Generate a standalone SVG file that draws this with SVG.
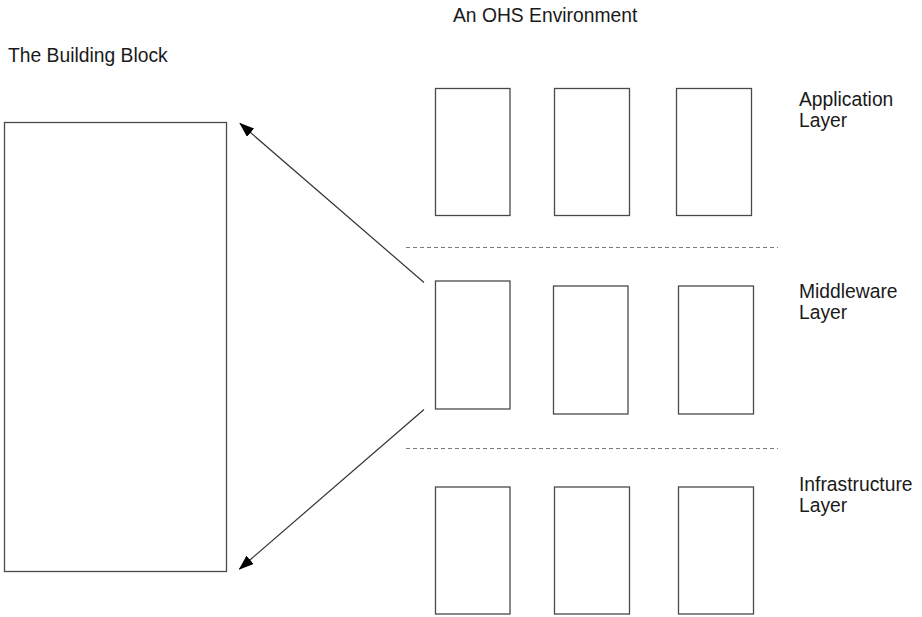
<svg xmlns="http://www.w3.org/2000/svg" width="922" height="617" viewBox="0 0 922 617">
  <style>
    .label { font-family: "Liberation Sans", Arial, sans-serif; font-size: 19.3px; fill: #1a1a1a; }
    .box { fill: #ffffff; stroke: #4a4a4a; stroke-width: 1.3; }
    .divider { stroke: #7a7a7a; stroke-width: 1.2; stroke-dasharray: 4 3; fill: none; }
    .conn { stroke: #333333; stroke-width: 1.2; fill: none; marker-end: url(#arrow); }
  </style>
  <defs>
    <marker id="arrow" viewBox="0 0 15 11" refX="14" refY="5.5" markerWidth="15" markerHeight="11" markerUnits="userSpaceOnUse" orient="auto">
      <path d="M0,0 L15,5.5 L0,11 Z" fill="#000000"/>
    </marker>
  </defs>
  <rect width="922" height="617" fill="#ffffff"/>

  <!-- headings -->
  <text class="label" x="8" y="62">The Building Block</text>
  <text class="label" x="453" y="22">An OHS Environment</text>

  <!-- building block -->
  <g id="building-block">
    <rect class="box" x="4.5" y="122.5" width="222" height="449"/>
  </g>

  <!-- application layer -->
  <g id="app-1"><rect class="box" x="435.5" y="88.5" width="74.5" height="127"/></g>
  <g id="app-2"><rect class="box" x="554.5" y="88.5" width="75" height="127"/></g>
  <g id="app-3"><rect class="box" x="676.5" y="88.5" width="75" height="127"/></g>
  <g id="app-label">
    <text class="label" x="799" y="106">Application</text>
    <text class="label" x="799" y="127">Layer</text>
  </g>

  <!-- middleware layer -->
  <g id="mid-1"><rect class="box" x="435.5" y="281" width="74.5" height="128"/></g>
  <g id="mid-2"><rect class="box" x="553.5" y="286" width="74.5" height="128"/></g>
  <g id="mid-3"><rect class="box" x="678.5" y="286" width="75" height="128"/></g>
  <g id="mid-label">
    <text class="label" x="799" y="298">Middleware</text>
    <text class="label" x="799" y="319">Layer</text>
  </g>

  <!-- infrastructure layer -->
  <g id="infra-1"><rect class="box" x="435.5" y="487" width="74.5" height="127"/></g>
  <g id="infra-2"><rect class="box" x="554.5" y="487" width="75" height="127"/></g>
  <g id="infra-3"><rect class="box" x="678.5" y="487" width="75" height="127"/></g>
  <g id="infra-label">
    <text class="label" x="799" y="491">Infrastructure</text>
    <text class="label" x="799" y="512">Layer</text>
  </g>

  <!-- layer dividers -->
  <g id="dividers">
    <line class="divider" x1="406" y1="247.5" x2="778" y2="247.5"/>
    <line class="divider" x1="406" y1="448.5" x2="778" y2="448.5"/>
  </g>

  <!-- connectors -->
  <g id="connectors">
    <line class="conn" x1="424" y1="282.5" x2="240" y2="123.5"/>
    <line class="conn" x1="424" y1="409.5" x2="239.5" y2="569"/>
  </g>
</svg>
